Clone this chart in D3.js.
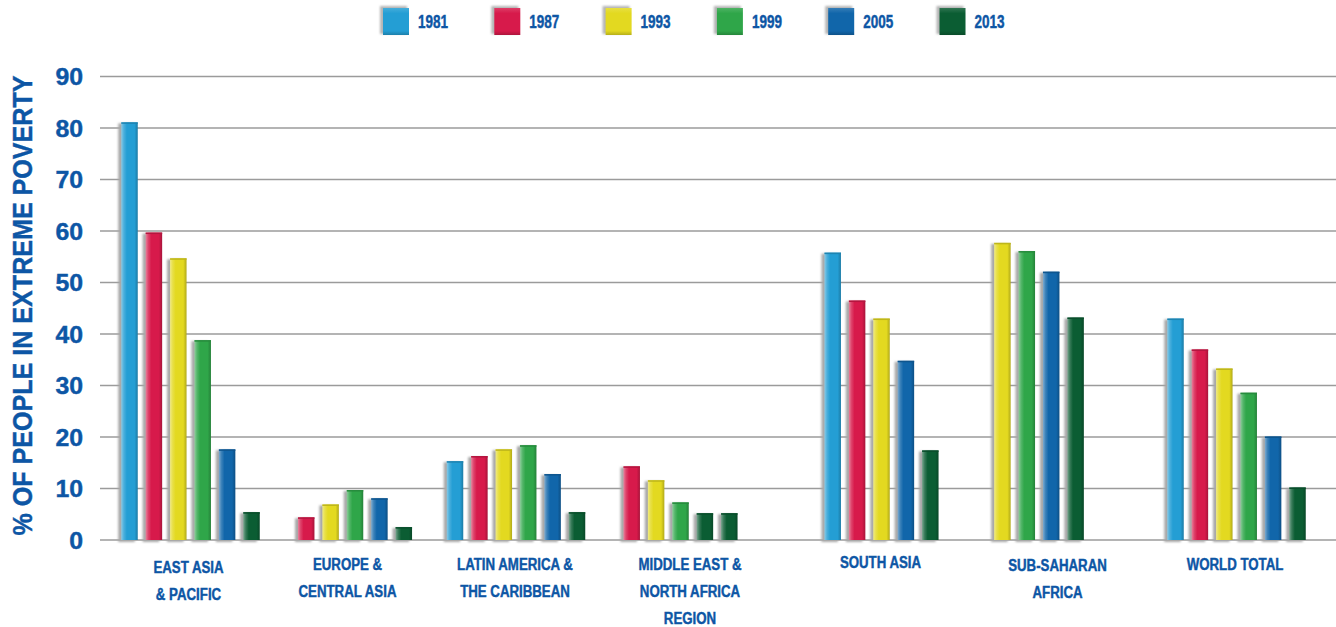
<!DOCTYPE html>
<html>
<head>
<meta charset="utf-8">
<script src="https://cdn.jsdelivr.net/npm/d3@7/dist/d3.min.js"></script>
<style>
  html, body { margin: 0; padding: 0; background: #fff; }
  svg { display: block; font-family: "Liberation Sans", Arial, sans-serif; }
</style>
</head>
<body>
<svg id="chart" width="1336" height="627"></svg>
<script>
// ---- data -------------------------------------------------------------
const years = ["1981", "1987", "1993", "1999", "2005", "2013"];

const categories = [
  ["EAST ASIA", "& PACIFIC"],
  ["EUROPE &", "CENTRAL ASIA"],
  ["LATIN AMERICA &", "THE CARIBBEAN"],
  ["MIDDLE EAST &", "NORTH AFRICA", "REGION"],
  ["SOUTH ASIA"],
  ["SUB-SAHARAN", "AFRICA"],
  ["WORLD TOTAL"]
];

// share of people in extreme poverty (%), one array per survey year
const v1981 = [81.1, null, 15.3, null, 55.8, null, 43.0];
const v1987 = [59.7, 4.4, 16.3, 14.3, 46.5, null, 37.0];
const v1993 = [54.7, 6.9, 17.6, 11.6, 43.0, 57.7, 33.3];
const v1999 = [38.8, 9.7, 18.4, 7.3, null, 56.1, 28.6];
const v2005 = [17.6, 8.1, 12.8, 5.2, 34.8, 52.1, 20.1];
const v2013 = [5.4, 2.5, 5.4, 5.2, 17.4, 43.2, 10.2];
const seriesValues = [v1981, v1987, v1993, v1999, v2005, v2013];

const yTicks = [0, 10, 20, 30, 40, 50, 60, 70, 80, 90];
const yTitle = "% OF PEOPLE IN EXTREME POVERTY";

// ---- styling ----------------------------------------------------------
const colors = ["#249ED4", "#D71A4B", "#E3D920", "#2FA649", "#1166AA", "#0B5D33"];
// the MENA 2005 bar is printed in the 2013 shade
const colorOverride = { "3|2005": "2013" };
const textBlue = "#0D56A5";
const gridGrey = "#9b9b9b";

// layout: group centres of the bars and of the region captions
const groupCentres = [190.5, 355, 516, 680.5, 881.5, 1039, 1236.5];
const captionCentres = [188.5, 347.5, 515, 690, 880.5, 1057.5, 1235];
const captionBaselines = [573, 570, 570, 570, 568, 571, 570];
const barStep = 24.4, barWidth = 16.5;

const svg = d3.select("#chart");
const W = 1336;

const y = d3.scaleLinear().domain([0, 90]).range([540, 76.5]);
const groupX = d3.scaleOrdinal().domain(d3.range(categories.length)).range(groupCentres);
const captionX = d3.scaleOrdinal().domain(d3.range(categories.length)).range(captionCentres);
const colorOf = d3.scaleOrdinal().domain(years).range(colors);

// ---- gradients & shadow ----------------------------------------------
const defs = svg.append("defs");
years.forEach((yr, i) => {
  const base = d3.color(colors[i]);
  const g = defs.append("linearGradient").attr("id", "bar" + yr)
    .attr("x1", "0%").attr("x2", "100%").attr("y1", "0%").attr("y2", "0%");
  g.append("stop").attr("offset", "0%").attr("stop-color", d3.interpolateRgb(base, "#fff")(0.45));
  g.append("stop").attr("offset", "16%").attr("stop-color", d3.interpolateRgb(base, "#fff")(0.18));
  g.append("stop").attr("offset", "34%").attr("stop-color", base.formatHex());
  g.append("stop").attr("offset", "80%").attr("stop-color", base.formatHex());
  g.append("stop").attr("offset", "100%").attr("stop-color", base.darker(0.7).formatHex());

  const s = defs.append("linearGradient").attr("id", "sq" + yr)
    .attr("x1", "0%").attr("x2", "0%").attr("y1", "0%").attr("y2", "100%");
  s.append("stop").attr("offset", "0%").attr("stop-color", d3.interpolateRgb(base, "#fff")(0.15));
  s.append("stop").attr("offset", "20%").attr("stop-color", base.formatHex());
  s.append("stop").attr("offset", "85%").attr("stop-color", base.formatHex());
  s.append("stop").attr("offset", "100%").attr("stop-color", base.darker(0.6).formatHex());
});
const blur = defs.append("filter").attr("id", "soft").attr("x", "-50%").attr("y", "-10%")
  .attr("width", "200%").attr("height", "120%");
blur.append("feGaussianBlur").attr("stdDeviation", 0.9);

// ---- grid -------------------------------------------------------------
svg.append("g").selectAll("line").data(yTicks).join("line")
  .attr("x1", 100).attr("x2", W)
  .attr("y1", d => y(d)).attr("y2", d => y(d))
  .attr("stroke", gridGrey).attr("stroke-width", 1.6);

// y tick labels
svg.append("g").selectAll("g").data(yTicks).join("g")
  .attr("transform", d => `translate(83,${y(d) + 8.5}) scale(1.08,1)`)
  .append("text")
  .attr("text-anchor", "end")
  .attr("font-size", 23).attr("font-weight", "bold").attr("fill", textBlue)
  .attr("stroke", textBlue).attr("stroke-width", 0.4)
  .text(d => d);

// y axis title
svg.append("text")
  .attr("transform", "translate(32,305.5) rotate(-90)")
  .attr("text-anchor", "middle")
  .attr("font-size", 27).attr("font-weight", "bold").attr("fill", textBlue)
  .attr("stroke", textBlue).attr("stroke-width", 0.4)
  .attr("textLength", 460).attr("lengthAdjust", "spacingAndGlyphs")
  .text(yTitle);

// ---- bars -------------------------------------------------------------
const bars = [];
categories.forEach((c, ci) => {
  const present = years.map((yr, si) => ({ yr, v: seriesValues[si][ci] })).filter(d => d.v != null);
  const inner = d3.scaleLinear().domain([0, present.length - 1])
    .range([-(present.length - 1) * barStep / 2, (present.length - 1) * barStep / 2]);
  present.forEach((d, k) => {
    const key = colorOverride[ci + "|" + d.yr] || d.yr;
    bars.push({ ci, yr: d.yr, key, v: d.v, cx: groupX(ci) + inner(k) });
  });
});

const barG = svg.append("g");
// soft grey shadow on the left side of each bar
barG.selectAll("rect.shadow").data(bars).join("rect")
  .attr("class", "shadow")
  .attr("x", d => d.cx - barWidth / 2 - 3)
  .attr("y", d => y(d.v) + 1)
  .attr("width", barWidth)
  .attr("height", d => y(0) - y(d.v) + 1)
  .attr("fill", "#a8a8a8").attr("filter", "url(#soft)");

barG.selectAll("rect.bar").data(bars).join("rect")
  .attr("class", "bar")
  .attr("x", d => d.cx - barWidth / 2)
  .attr("y", d => y(d.v))
  .attr("width", barWidth)
  .attr("height", d => y(0) - y(d.v))
  .attr("fill", d => `url(#bar${d.key})`);

// darker cap on top of each bar
barG.selectAll("rect.cap").data(bars).join("rect")
  .attr("class", "cap")
  .attr("x", d => d.cx - barWidth / 2)
  .attr("y", d => y(d.v))
  .attr("width", barWidth)
  .attr("height", 1.5)
  .attr("fill", d => d3.color(colorOf(d.key)).darker(0.5).formatHex());

// ---- region captions --------------------------------------------------
const cap = svg.append("g").selectAll("g").data(categories).join("g")
  .attr("transform", (d, i) => `translate(${captionX(i)},${captionBaselines[i]}) scale(0.78,1)`);
cap.append("text")
  .attr("text-anchor", "middle")
  .attr("font-size", 17).attr("font-weight", "bold").attr("fill", textBlue)
  .attr("stroke", textBlue).attr("stroke-width", 0.45)
  .selectAll("tspan").data(d => d).join("tspan")
  .attr("x", 0).attr("y", (d, i) => i * 27)
  .text(d => d);

// ---- legend -----------------------------------------------------------
const leg = svg.append("g").selectAll("g").data(years).join("g")
  .attr("transform", (d, i) => `translate(${382 + i * 111.3},7)`);
leg.append("rect")
  .attr("x", -2).attr("y", -1).attr("width", 27).attr("height", 28)
  .attr("fill", "#b5b5b5").attr("filter", "url(#soft)");
leg.append("rect")
  .attr("x", 1).attr("y", 1).attr("width", 26).attr("height", 27)
  .attr("fill", d => `url(#sq${d})`);
leg.append("g")
  .attr("transform", "translate(36,21) scale(0.75,1)")
  .append("text")
  .attr("font-size", 18).attr("font-weight", "bold").attr("fill", textBlue)
  .attr("stroke", textBlue).attr("stroke-width", 0.45)
  .text(d => d);
</script>
</body>
</html>
